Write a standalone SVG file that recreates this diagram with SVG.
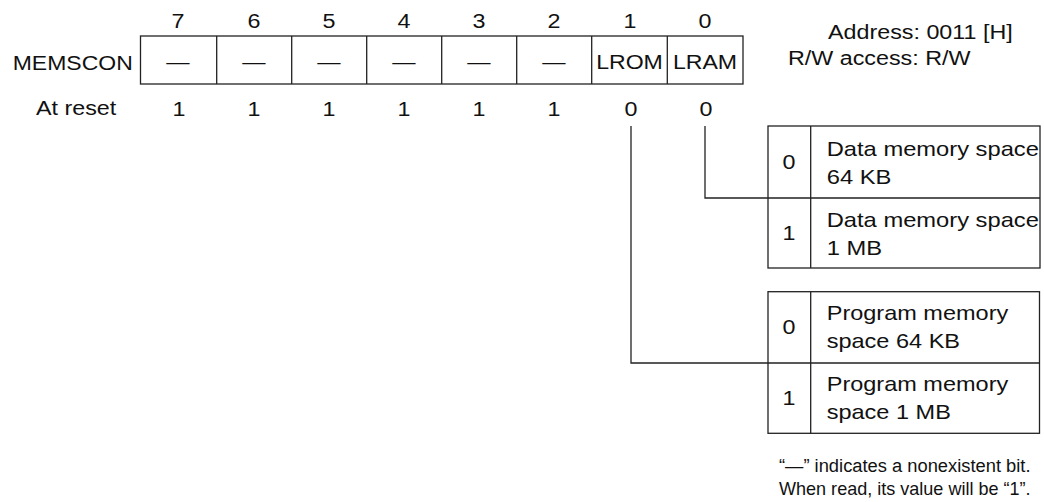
<svg xmlns="http://www.w3.org/2000/svg" width="1044" height="502" viewBox="0 0 1044 502">
<style>
text{font-family:"Liberation Sans",Arial,sans-serif;font-size:21px;fill:#111}
.m{text-anchor:middle}
.box{fill:none;stroke:#222;stroke-width:1.3}
.ln{fill:none;stroke:#222;stroke-width:1.3}
.f{font-size:19px}
</style>
<rect width="1044" height="502" fill="#fff"/>
<g id="bitnumbers">
<text class="m" transform="translate(178,28) scale(1.11,1)">7</text>
<text class="m" transform="translate(254,28) scale(1.11,1)">6</text>
<text class="m" transform="translate(329,28) scale(1.11,1)">5</text>
<text class="m" transform="translate(404,28) scale(1.11,1)">4</text>
<text class="m" transform="translate(479,28) scale(1.11,1)">3</text>
<text class="m" transform="translate(554,28) scale(1.11,1)">2</text>
<text class="m" transform="translate(630,28) scale(1.11,1)">1</text>
<text class="m" transform="translate(705,28) scale(1.11,1)">0</text>
</g>
<g id="register">
<text transform="translate(12.7,70) scale(1.095,1)">MEMSCON</text>
<rect class="box" x="140.5" y="36" width="602.5" height="48"/>
<path class="ln" d="M216.7 36V84M291.7 36V84M366.7 36V84M441.7 36V84M516.7 36V84M591.7 36V84M667.3 36V84"/>
<text class="m" transform="translate(178,69) scale(1.11,1)">—</text>
<text class="m" transform="translate(254,69) scale(1.11,1)">—</text>
<text class="m" transform="translate(329,69) scale(1.11,1)">—</text>
<text class="m" transform="translate(404,69) scale(1.11,1)">—</text>
<text class="m" transform="translate(479,69) scale(1.11,1)">—</text>
<text class="m" transform="translate(554,69) scale(1.11,1)">—</text>
<text class="m" transform="translate(629.5,69) scale(1.1,1)">LROM</text>
<text class="m" transform="translate(705,69) scale(1.1,1)">LRAM</text>
</g>
<g id="reset">
<text transform="translate(36,115) scale(1.11,1)">At reset</text>
<text class="m" transform="translate(179,116) scale(1.11,1)">1</text>
<text class="m" transform="translate(254,116) scale(1.11,1)">1</text>
<text class="m" transform="translate(329,116) scale(1.11,1)">1</text>
<text class="m" transform="translate(404,116) scale(1.11,1)">1</text>
<text class="m" transform="translate(479,116) scale(1.11,1)">1</text>
<text class="m" transform="translate(554,116) scale(1.11,1)">1</text>
<text class="m" transform="translate(631,116) scale(1.11,1)">0</text>
<text class="m" transform="translate(706,116) scale(1.11,1)">0</text>
</g>
<g id="address">
<text transform="translate(828,39) scale(1.11,1)">Address: 0011 [H]</text>
<text transform="translate(788,65) scale(1.11,1)">R/W access: R/W</text>
</g>
<g id="connectors">
<path class="ln" d="M705 126V198H768"/>
<path class="ln" d="M631 126V363H768"/>
</g>
<g id="lram-table">
<rect class="box" x="768" y="126" width="272" height="142"/>
<path class="ln" d="M768 198H1040M810.7 126V268"/>
<text class="m" transform="translate(789,169) scale(1.11,1)">0</text>
<text transform="translate(826.7,156) scale(1.13,1)">Data memory space</text>
<text transform="translate(826.7,184) scale(1.13,1)">64 KB</text>
<text class="m" transform="translate(789,240) scale(1.11,1)">1</text>
<text transform="translate(826.7,227) scale(1.13,1)">Data memory space</text>
<text transform="translate(826.7,255) scale(1.13,1)">1 MB</text>
</g>
<g id="lrom-table">
<rect class="box" x="768" y="291.7" width="271.5" height="141.6"/>
<path class="ln" d="M768 363H1039.5M810.7 291.7V433.3"/>
<text class="m" transform="translate(789,334) scale(1.11,1)">0</text>
<text transform="translate(826.7,320) scale(1.12,1)">Program memory</text>
<text transform="translate(826.7,348) scale(1.12,1)">space 64 KB</text>
<text class="m" transform="translate(789,405) scale(1.11,1)">1</text>
<text transform="translate(826.7,391) scale(1.12,1)">Program memory</text>
<text transform="translate(826.7,419) scale(1.12,1)">space 1 MB</text>
</g>
<g id="note">
<text class="f" transform="translate(779,472) scale(0.965,1)">“—” indicates a nonexistent bit.</text>
<text class="f" transform="translate(779,495) scale(0.95,1)">When read, its value will be “1”.</text>
</g>
</svg>
